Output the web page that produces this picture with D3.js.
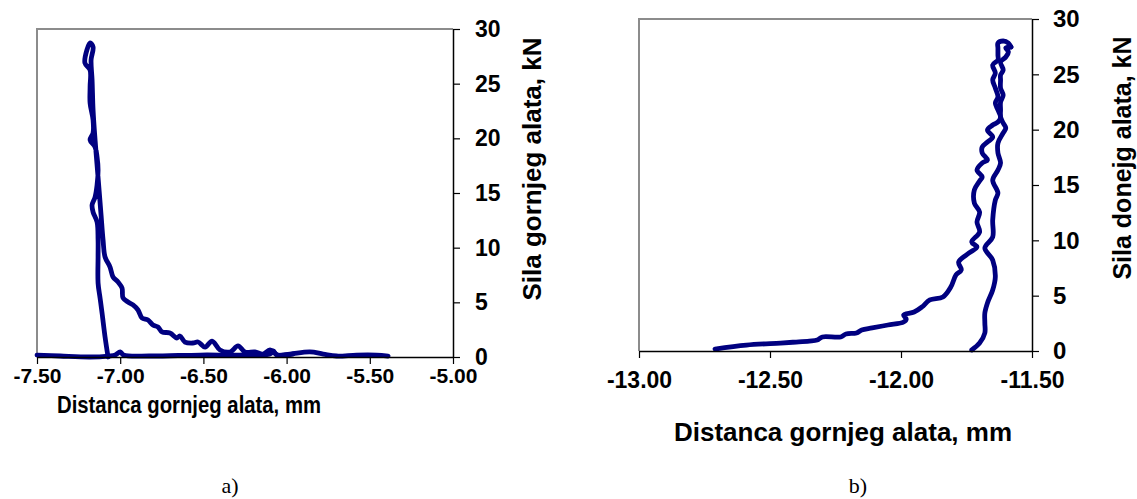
<!DOCTYPE html>
<html><head><meta charset="utf-8">
<script src="https://cdn.jsdelivr.net/npm/d3@7"></script>
<style>body{margin:0;background:#fff}</style>
</head><body><svg id="c" width="1137" height="499"></svg>
<script>
// ---------- data ----------
const leftApproachX = [-7.50,-7.36,-7.18,-7.07,-7.03,-7.00,-6.98,-6.82,-6.52,-6.28,-6.10,-6.08,-6.06,-5.98,-5.86,-5.78,-5.70,-5.58,-5.46,-5.39];
const leftApproachY = [0.18,0.09,0.00,0.09,0.18,0.46,0.18,0.09,0.18,0.18,0.27,0.55,0.18,0.27,0.46,0.27,0.09,0.18,0.18,0.09];

const leftLoopX = [-7.073,-7.091,-7.109,-7.121,-7.133,-7.133,-7.133,-7.139,-7.163,-7.169,-7.151,-7.139,-7.133,-7.139,-7.151,-7.181,-7.163,-7.163,-7.181,-7.181,-7.181,-7.212,-7.200,-7.181,-7.163,-7.175,-7.169,-7.163,-7.151,-7.139,-7.127,-7.115,-7.103,-7.091,-7.061,-7.043,-7.013,-6.989,-6.983,-6.953,-6.923,-6.893,-6.869,-6.833,-6.803,-6.773,-6.749,-6.701,-6.659,-6.641,-6.611,-6.563,-6.532,-6.490,-6.448,-6.400,-6.340,-6.292,-6.250,-6.190,-6.142,-6.100,-6.052,-5.962];
const leftLoopY = [0.00,1.83,4.02,5.40,6.77,9.15,10.70,12.35,13.26,13.90,14.63,15.73,17.10,18.29,19.21,19.85,20.49,21.68,23.23,24.70,26.25,26.89,28.08,28.72,28.35,27.17,25.34,22.59,19.85,17.56,15.27,12.99,10.70,9.15,8.23,7.32,6.86,6.31,5.40,5.03,4.76,4.30,3.57,3.38,2.93,2.74,2.29,2.20,1.74,1.92,1.37,1.28,1.37,0.91,1.46,0.64,0.46,1.01,0.46,0.46,0.27,0.64,0.18,0.27];

const rightLoadX = [-12.71,-12.59,-12.46,-12.40,-12.35,-12.32,-12.30,-12.23,-12.21,-12.17,-12.15,-12.11,-12.05,-11.99,-11.98,-11.99,-11.95,-11.92,-11.89,-11.84,-11.81,-11.79,-11.77,-11.78,-11.74,-11.71,-11.73,-11.70,-11.71,-11.70,-11.72,-11.72,-11.70,-11.69,-11.71,-11.69,-11.67,-11.69,-11.69,-11.67,-11.65,-11.67,-11.65,-11.63,-11.62,-11.63,-11.64,-11.63,-11.64,-11.65,-11.64,-11.65,-11.63,-11.63,-11.63,-11.63,-11.61,-11.59,-11.58];
const rightLoadY = [0.18,0.54,0.72,0.81,0.90,0.99,1.27,1.27,1.54,1.63,1.90,2.08,2.35,2.62,2.89,3.25,3.52,3.98,4.61,4.88,5.78,6.87,7.32,8.04,8.86,9.40,9.85,10.75,11.66,12.56,13.37,14.55,15.36,15.72,16.35,16.99,17.26,17.89,18.43,18.88,19.34,19.97,20.42,20.69,21.14,21.78,22.41,22.95,23.76,24.49,25.12,25.84,26.29,26.75,27.38,27.83,28.01,27.83,27.47];

const rightUnloadX = [-11.58,-11.60,-11.59,-11.60,-11.62,-11.61,-11.62,-11.62,-11.62,-11.61,-11.62,-11.62,-11.62,-11.61,-11.60,-11.61,-11.63,-11.63,-11.62,-11.63,-11.65,-11.63,-11.64,-11.65,-11.65,-11.68,-11.65,-11.64,-11.65,-11.67,-11.68,-11.68,-11.68,-11.70,-11.73];
const rightUnloadY = [27.47,27.38,27.02,26.57,26.11,25.39,24.94,24.49,23.76,23.13,22.50,21.78,21.14,20.60,20.15,19.70,18.79,17.89,16.99,16.35,15.45,14.28,13.64,11.84,10.30,9.31,8.22,6.69,5.51,4.34,3.43,2.53,1.63,0.72,0.09];

const leftXTicks = [-7.5,-7.0,-6.5,-6.0,-5.5,-5.0];
const rightXTicks = [-13.0,-12.5,-12.0,-11.5];
const yTicks = [0,5,10,15,20,25,30];
const xTitle = "Distanca gornjeg alata, mm";
const leftYTitle = "Sila gornjeg alata, kN";
const rightYTitle = "Sila donejg alata, kN";
const captions = ["a)", "b)"];

// ---------- drawing ----------
const svg = d3.select("#c");
const zip = (xs, ys) => xs.map((x, i) => [x, ys[i]]);
const SANS = "Liberation Sans, Arial, sans-serif";

const panels = [
  {x0:37, x1:453, y0:29, y1:357, xDom:[-7.5,-5], xTicks:leftXTicks,
   series:[zip(leftApproachX,leftApproachY), zip(leftLoopX,leftLoopY)],
   yTitle:leftYTitle, xTickFs:21, yTickFs:23, xPad:4, yPad:15,
   titleFs:24, titleLen:264, titleX:189, titleY:413, yTitleFs:26, yTitleX:532, yTitleY:169,
   capX:230, capY:493, cap:captions[0]},
  {x0:639, x1:1032, y0:19, y1:351, xDom:[-13,-11.5], xTicks:rightXTicks,
   series:[zip(rightLoadX,rightLoadY), zip(rightUnloadX,rightUnloadY)],
   yTitle:rightYTitle, xTickFs:23, yTickFs:24, xPad:14, yPad:14,
   titleFs:26, titleLen:null, titleX:843, titleY:441, yTitleFs:25, yTitleX:1122, yTitleY:158,
   capX:858, capY:493, cap:captions[1]}
];

panels.forEach(p => {
  const x = d3.scaleLinear().domain(p.xDom).range([p.x0, p.x1]);
  const y = d3.scaleLinear().domain([0,30]).range([p.y1, p.y0]);
  const g = svg.append("g");

  // gray frame (top & left)
  g.append("path")
    .attr("d", `M${p.x0},${p.y1}V${p.y0}H${p.x1}`)
    .attr("fill","none").attr("stroke","#8c8c8c").attr("stroke-width",2);

  // data
  const line = d3.line().x(d => x(d[0])).y(d => y(d[1])).curve(d3.curveCatmullRom.alpha(0.5));
  p.series.forEach(s => {
    g.append("path").attr("d", line(s))
      .attr("fill","none").attr("stroke","#000080").attr("stroke-width",4.8)
      .attr("stroke-linejoin","round").attr("stroke-linecap","round");
  });

  // bottom axis
  const ax = g.append("g").attr("transform",`translate(0,${p.y1})`)
    .call(d3.axisBottom(x).tickValues(p.xTicks).tickSize(7).tickSizeOuter(0).tickPadding(p.xPad)
      .tickFormat(d => d.toFixed(2)));
  ax.selectAll("text").style("font-size", p.xTickFs + "px");
  // right axis
  const ay = g.append("g").attr("transform",`translate(${p.x1},0)`)
    .call(d3.axisRight(y).tickValues(yTicks).tickSize(7).tickSizeOuter(0).tickPadding(p.yPad)
      .tickFormat(d => d));
  ay.selectAll("text").style("font-size", p.yTickFs + "px");
  [ax, ay].forEach(a => {
    a.select(".domain").attr("stroke","#000").attr("stroke-width",1.5);
    a.selectAll(".tick line").attr("stroke","#000").attr("stroke-width",1.2);
    a.selectAll("text").attr("fill","#000").style("font-family",SANS).style("font-weight","bold");
  });

  // titles
  const xt = g.append("text").attr("x", p.titleX).attr("y", p.titleY).attr("text-anchor","middle")
    .style("font-family",SANS).style("font-weight","bold")
    .style("font-size",p.titleFs + "px").text(xTitle);
  if (p.titleLen) xt.attr("textLength", p.titleLen).attr("lengthAdjust","spacingAndGlyphs");
  g.append("text").attr("transform",`translate(${p.yTitleX},${p.yTitleY}) rotate(-90)`)
    .attr("text-anchor","middle").attr("dominant-baseline","central")
    .style("font-family",SANS).style("font-weight","bold")
    .style("font-size",p.yTitleFs + "px").text(p.yTitle);
  g.append("text").attr("x", p.capX).attr("y", p.capY).attr("text-anchor","middle")
    .style("font-family","Liberation Serif, Times New Roman, serif")
    .style("font-size","22px").text(p.cap);
});
</script></body></html>
